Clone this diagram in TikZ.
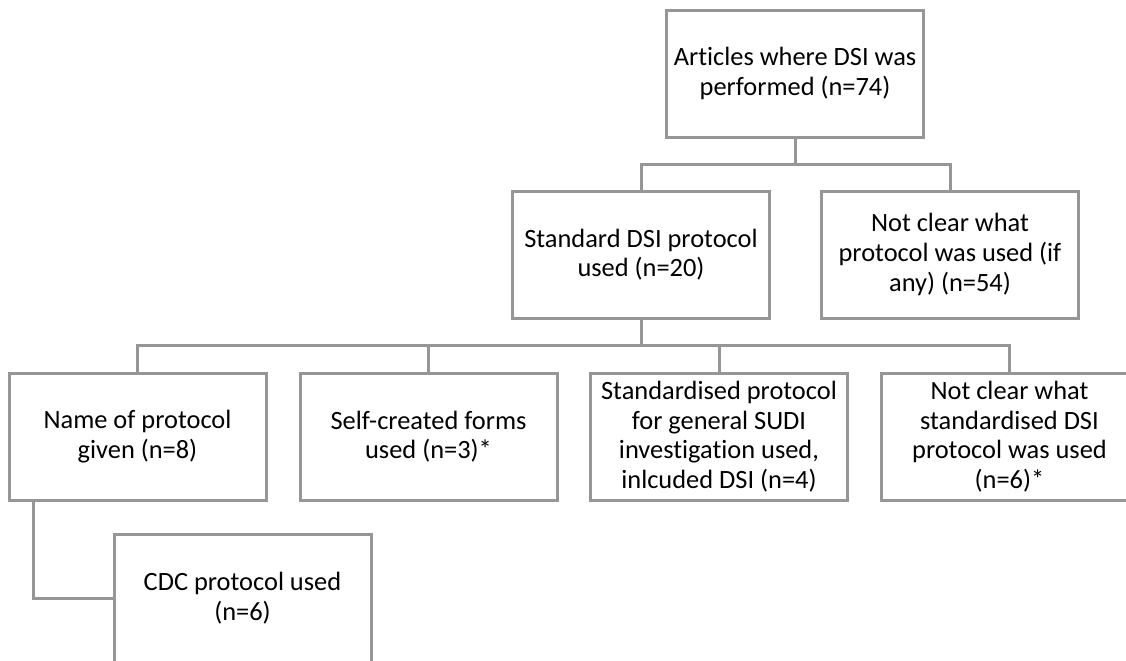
\documentclass[tikz,border=0pt]{standalone}
\usepackage{fontspec}
\setmainfont[Ligatures=NoCommon]{Carlito}
\definecolor{linegray}{RGB}{150,150,150}
\begin{document}
\begin{tikzpicture}[x=0.5pt,y=-0.5pt,
  box/.style={draw=linegray, line width=1.5pt, fill=white, rectangle,
    minimum width=128.5pt, minimum height=63.5pt, align=center, inner sep=2pt,
    font=\fontsize{13.2}{14.8}\selectfont, text=black},
  conn/.style={draw=linegray, line width=1.5pt}]
\useasboundingbox (0,0) rectangle (1126,660);
\node[box] (top) at (795,73.5) {Articles where DSI was\\performed (n=74)};
\node[box] (b2) at (641,254.5) {Standard DSI protocol\\used (n=20)};
\node[box] (b3) at (950,254.5) {Not clear what\\protocol was used (if\\any) (n=54)};
\node[box] (ca) at (137.5,436.5) {Name of protocol\\given (n=8)};
\node[box] (cb) at (428.5,436.5) {Self-created forms\\used (n=3)*};
\node[box] (cc) at (719,436.5) {Standardised protocol\\for general SUDI\\investigation used,\\inlcuded DSI (n=4)};
\node[box] (cd) at (1009.5,436.5) {Not clear what\\standardised DSI\\protocol was used\\(n=6)*};
\node[box, minimum height=64pt] (ce) at (242.5,598) {CDC protocol used\\(n=6)};
\coordinate (j1) at (795,164);
\coordinate (j2) at (641,345);
\draw[conn] (top.south) -- (j1);
\draw[conn] (b2.north) |- (j1) -| (b3.north);
\draw[conn] (b2.south) -- (j2);
\draw[conn] (ca.north) |- (j2) -| (cd.north);
\draw[conn] (cb.north) |- (j2);
\draw[conn] (cc.north) |- (j2);
\draw[conn] ([xshift=13pt]ca.south west) |- (ce.west);
\end{tikzpicture}
\end{document}
